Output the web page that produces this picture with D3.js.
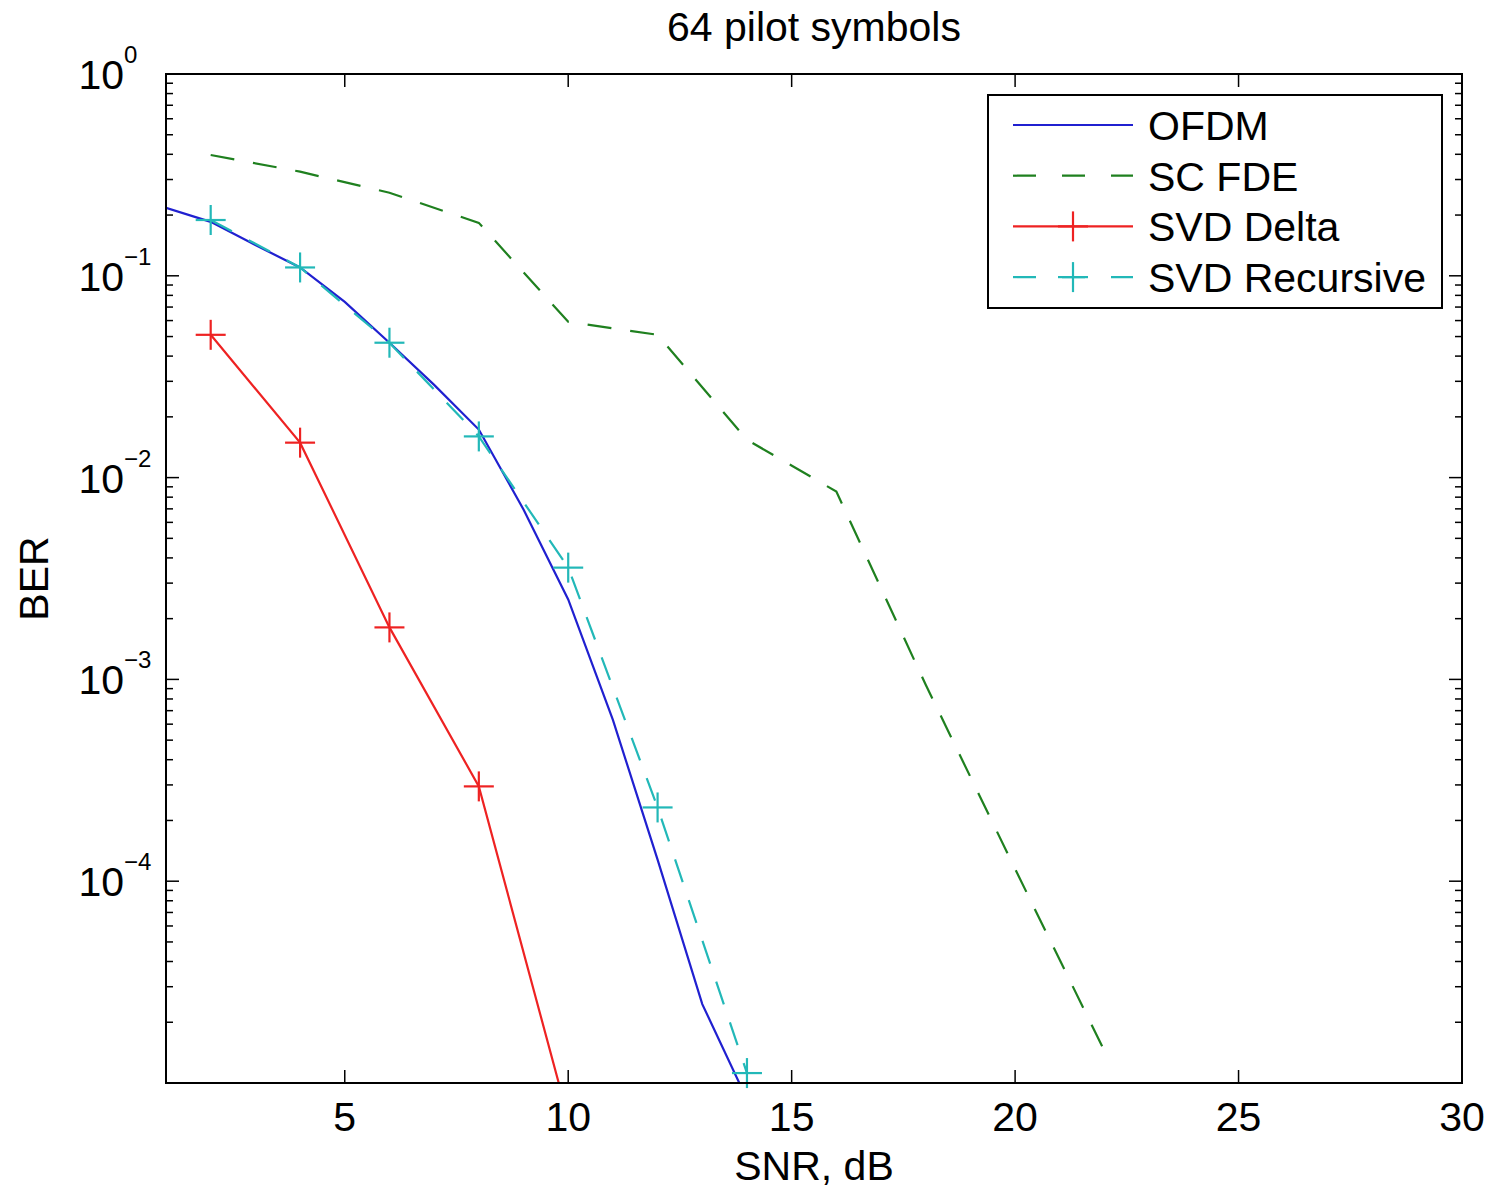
<!DOCTYPE html>
<html>
<head>
<meta charset="utf-8">
<script src="https://cdnjs.cloudflare.com/ajax/libs/d3/7.8.5/d3.min.js"></script>
<title>64 pilot symbols</title>
<style>
  body { margin: 0; background: #fff; }
  text { font-family: "Liberation Sans", Arial, sans-serif; fill: #000; }
</style>
</head>
<body>
<script>
// data
var title = "64 pilot symbols";
var seriesNames = ["OFDM", "SC FDE", "SVD Delta", "SVD Recursive"];

var ofdmSnr = [1, 2, 3, 4, 5, 6, 7, 8, 9, 10, 11, 12, 13, 14];
var ofdmBer = [0.217, 0.185, 0.142, 0.11, 0.0743, 0.0466, 0.0288, 0.0173, 0.00695, 0.00249, 6.3e-4, 1.28e-4, 2.46e-5, 8.3e-6];

var scfdeSnr = [2, 4, 6, 8, 10, 12, 14, 16, 18, 20, 22];
var scfdeBer = [0.397, 0.328, 0.258, 0.183, 0.0592, 0.051, 0.0154, 0.00853, 9.4e-4, 1.15e-4, 1.44e-5];

var deltaSnr = [2, 4, 6, 8, 10];
var deltaBer = [0.051, 0.0149, 0.00181, 2.95e-4, 6.7e-6];

var recSnr = [2, 4, 6, 8, 10, 12, 14];
var recBer = [0.189, 0.11, 0.0466, 0.016, 0.00358, 2.32e-4, 1.12e-5];

var xTicks = [5, 10, 15, 20, 25, 30];
var yTickExps = [0, -1, -2, -3, -4];

var W = 1490, H = 1189;
var pL = 166, pR = 1462, pT = 74, pB = 1083;

var x = d3.scaleLinear().domain([1, 30]).range([pL, pR]);
var y = d3.scaleLog().domain([1e-5, 1]).range([pB, pT]);

var svg = d3.select("body").append("svg")
  .attr("width", W).attr("height", H);

svg.append("defs").append("clipPath").attr("id", "plotclip")
  .append("rect")
  .attr("x", pL).attr("y", pT)
  .attr("width", pR - pL).attr("height", pB - pT);

var series = [
  {name: seriesNames[0], snr: ofdmSnr, ber: ofdmBer, color: "#2020d0", dash: null, marker: false},
  {name: seriesNames[1], snr: scfdeSnr, ber: scfdeBer, color: "#1f801f", dash: "24,19", marker: false},
  {name: seriesNames[2], snr: deltaSnr, ber: deltaBer, color: "#ee2222", dash: null, marker: true},
  {name: seriesNames[3], snr: recSnr, ber: recBer, color: "#22b8b8", dash: "24,19", marker: true}
];

// ticks (inside the box, MATLAB style)
var tickG = svg.append("g").attr("stroke", "#000").attr("stroke-width", 1.5);
var majLen = 13, minLen = 7;
xTicks.forEach(function(t) {
  tickG.append("line").attr("x1", x(t)).attr("x2", x(t)).attr("y1", pB).attr("y2", pB - majLen);
  tickG.append("line").attr("x1", x(t)).attr("x2", x(t)).attr("y1", pT).attr("y2", pT + majLen);
});
for (var e = 0; e >= -5; e--) {
  var base = Math.pow(10, e);
  tickG.append("line").attr("x1", pL).attr("x2", pL + majLen).attr("y1", y(base)).attr("y2", y(base));
  tickG.append("line").attr("x1", pR).attr("x2", pR - majLen).attr("y1", y(base)).attr("y2", y(base));
  if (e < 0) {
    for (var m = 2; m <= 9; m++) {
      var v = m * base;
      if (v > 1) continue;
      tickG.append("line").attr("x1", pL).attr("x2", pL + minLen).attr("y1", y(v)).attr("y2", y(v));
      tickG.append("line").attr("x1", pR).attr("x2", pR - minLen).attr("y1", y(v)).attr("y2", y(v));
    }
  }
}

// x tick labels
svg.append("g").selectAll("text").data(xTicks).enter().append("text")
  .attr("x", function(d) { return x(d); })
  .attr("y", pB + 48)
  .attr("text-anchor", "middle")
  .style("font-size", "41px")
  .text(function(d) { return d; });

// y tick labels 10^n
var yl = svg.append("g").selectAll("g").data(yTickExps).enter().append("g");
yl.append("text")
  .attr("x", 124)
  .attr("y", function(d) { return y(Math.pow(10, d)) + 15; })
  .attr("text-anchor", "end")
  .style("font-size", "41px")
  .text("10");
yl.append("text")
  .attr("x", 124)
  .attr("y", function(d) { return y(Math.pow(10, d)) - 11; })
  .style("font-size", "24px")
  .text(function(d) { return d === 0 ? "0" : "\u2212" + (-d); });

// lines
var line = d3.line()
  .x(function(d) { return x(d[0]); })
  .y(function(d) { return y(d[1]); });

var plot = svg.append("g").attr("clip-path", "url(#plotclip)");
series.forEach(function(s) {
  var pts = d3.zip(s.snr, s.ber);
  plot.append("path")
    .attr("d", line(pts))
    .attr("fill", "none")
    .attr("stroke", s.color)
    .attr("stroke-width", 2.2)
    .attr("stroke-dasharray", s.dash);
});

// markers
var mk = 15;
function plus(g, cx, cy, color) {
  g.append("line").attr("x1", cx - mk).attr("x2", cx + mk).attr("y1", cy).attr("y2", cy)
    .attr("stroke", color).attr("stroke-width", 2.2);
  g.append("line").attr("x1", cx).attr("x2", cx).attr("y1", cy - mk).attr("y2", cy + mk)
    .attr("stroke", color).attr("stroke-width", 2.2);
}
var markG = svg.append("g");
series.filter(function(s) { return s.marker; }).forEach(function(s) {
  d3.zip(s.snr, s.ber).forEach(function(p) {
    if (p[1] < 1e-5) return;
    plus(markG, x(p[0]), y(p[1]), s.color);
  });
});

// frame
svg.append("rect")
  .attr("x", pL).attr("y", pT)
  .attr("width", pR - pL).attr("height", pB - pT)
  .attr("fill", "none").attr("stroke", "#000").attr("stroke-width", 2);

// title and axis labels
svg.append("text").attr("x", (pL + pR) / 2).attr("y", 41)
  .attr("text-anchor", "middle").style("font-size", "41px").text(title);
svg.append("text").attr("x", (pL + pR) / 2).attr("y", 1180)
  .attr("text-anchor", "middle").style("font-size", "41px").text("SNR, dB");
svg.append("text")
  .attr("transform", "translate(48," + ((pT + pB) / 2) + ") rotate(-90)")
  .attr("text-anchor", "middle").style("font-size", "41px").text("BER");

// legend
var lg = svg.append("g").attr("transform", "translate(988,95)");
lg.append("rect").attr("width", 454).attr("height", 213)
  .attr("fill", "#fff").attr("stroke", "#000").attr("stroke-width", 2);
series.forEach(function(s, i) {
  var ry = 30 + i * 50.7;
  lg.append("line").attr("x1", 25).attr("x2", 145).attr("y1", ry).attr("y2", ry)
    .attr("stroke", s.color).attr("stroke-width", 2.2)
    .attr("stroke-dasharray", s.dash ? "23,26" : null);
  if (s.marker) plus(lg, 85, ry, s.color);
  lg.append("text").attr("x", 160).attr("y", ry + 15)
    .style("font-size", "41px").text(s.name);
});
</script>
</body>
</html>
